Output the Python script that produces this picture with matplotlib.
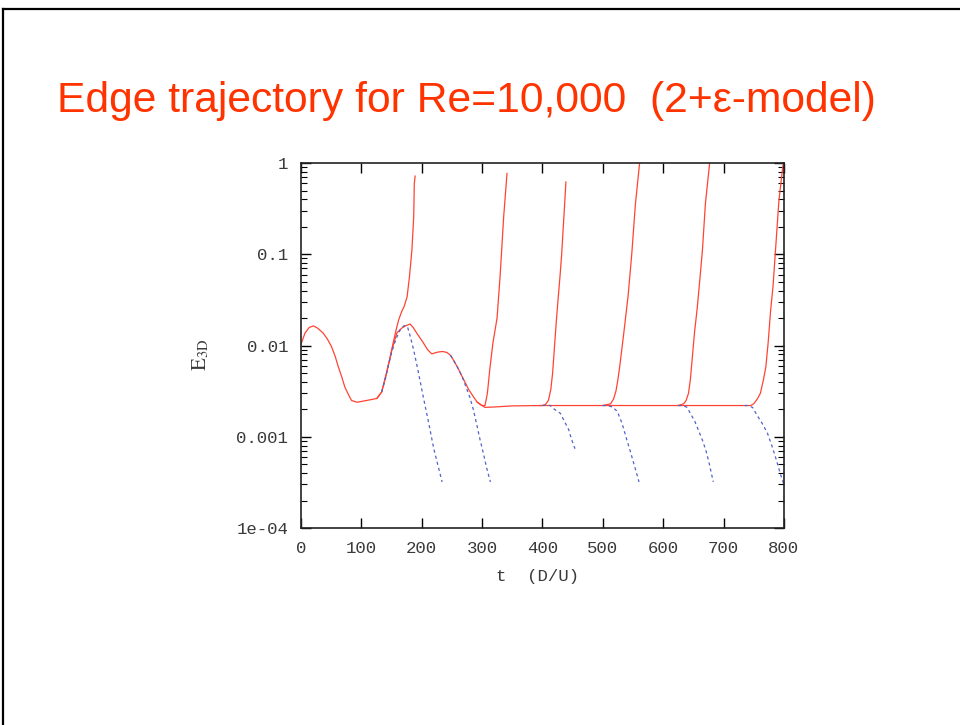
import matplotlib
matplotlib.use("Agg")
import matplotlib.pyplot as plt
from matplotlib.lines import Line2D
from matplotlib.ticker import FixedLocator, FixedFormatter, LogLocator, NullFormatter

plt.rcParams['mathtext.fontset'] = 'stix'

# turbulent branches (red, solid): t in D/U, E3D
t_up0 = [0, 3, 7, 14, 21, 28, 37, 44, 51, 57, 62, 68, 73, 79, 84, 93, 109, 126, 134, 142,
         148, 153, 158, 162, 167, 171, 176, 180, 184, 187, 188, 189.4]
e_up0 = [0.0102, 0.0115, 0.0137, 0.0158, 0.0164, 0.0155, 0.0137, 0.0118, 0.0097, 0.0076,
         0.0059, 0.0045, 0.0035, 0.0029, 0.0025, 0.00239, 0.0025, 0.00263, 0.0031, 0.005,
         0.0075, 0.0107, 0.015, 0.019, 0.0235, 0.0267, 0.034, 0.057, 0.111, 0.258, 0.6, 0.72]

t_up1 = [126, 134, 142, 151, 159, 167, 174, 181, 186, 192, 203, 210, 217, 222, 228, 235,
         242, 248, 253, 260, 267, 278, 285, 292, 300, 305, 309, 313, 318, 325, 330, 336, 341.5]
e_up1 = [0.00263, 0.0031, 0.005, 0.009, 0.0137, 0.0155, 0.0165, 0.0172, 0.0158, 0.0137,
         0.0107, 0.009, 0.0081, 0.0083, 0.0085, 0.0086, 0.0084, 0.0078, 0.0069, 0.0057,
         0.0046, 0.0033, 0.0028, 0.0024, 0.0022, 0.0022, 0.003, 0.0055, 0.0105, 0.02,
         0.057, 0.26, 0.77]

t_up2 = [292, 300, 305, 320, 350, 400, 405, 410, 414, 417, 420, 423, 426, 429, 432, 434, 436, 439]
e_up2 = [0.0024, 0.0022, 0.0021, 0.00212, 0.00218, 0.0022, 0.00225, 0.0025, 0.0033, 0.005,
         0.0095, 0.018, 0.032, 0.055, 0.1, 0.17, 0.28, 0.62]

t_up3 = [395, 450, 500, 513, 518, 522, 525, 528, 535, 542, 548, 554, 561, 565]
e_up3 = [0.0022, 0.0022, 0.0022, 0.0023, 0.0026, 0.0032, 0.0042, 0.0058, 0.014, 0.035,
         0.1, 0.35, 1.0, 1.6]

t_up4 = [500, 560, 625, 634, 638, 642, 645, 648, 652, 656.5, 661, 665, 670, 677, 680]
e_up4 = [0.0022, 0.0022, 0.0022, 0.0023, 0.0025, 0.003, 0.0042, 0.007, 0.014, 0.026,
         0.055, 0.11, 0.36, 1.0, 1.4]

t_up5 = [625, 700, 745, 750, 756, 761, 766, 770, 774, 778, 782, 786, 791.7, 797.5, 803]
e_up5 = [0.0022, 0.0022, 0.0022, 0.0023, 0.0026, 0.003, 0.0042, 0.0058, 0.011, 0.0245,
         0.045, 0.11, 0.39, 0.84, 1.5]

# laminar branches (blue, dashed)
t_dn0 = [134, 140, 145, 150, 155, 160, 165, 170, 173, 177, 181, 187, 195, 203, 212, 220, 227, 234]
e_dn0 = [0.0031, 0.0043, 0.006, 0.0082, 0.0105, 0.0128, 0.015, 0.0163, 0.0166, 0.0158,
         0.0128, 0.0089, 0.005, 0.0027, 0.0014, 0.00075, 0.00049, 0.00032]

t_dn1 = [248, 253, 260, 267, 273, 280, 286, 292, 297, 303, 308, 314]
e_dn1 = [0.0078, 0.0069, 0.0057, 0.0046, 0.0036, 0.0027, 0.00196, 0.0013, 0.00092,
         0.00063, 0.00045, 0.00032]

t_dn2 = [400, 407, 413, 420, 425, 430, 436, 443.6, 448, 454]
e_dn2 = [0.0022, 0.00222, 0.0022, 0.002, 0.0019, 0.0018, 0.0015, 0.0012, 0.00095, 0.00074]

t_dn3 = [500, 507, 516, 524, 532, 540, 546, 551, 556, 560]
e_dn3 = [0.0022, 0.0022, 0.00212, 0.0019, 0.0014, 0.00092, 0.00068, 0.00052, 0.0004, 0.00032]

t_dn4 = [625, 632, 640, 645, 652, 658, 665, 671, 676, 683]
e_dn4 = [0.0022, 0.0022, 0.0021, 0.0018, 0.0015, 0.0012, 0.00092, 0.0007, 0.00052, 0.00032]

t_dn5 = [735, 740, 748, 756, 764, 772.6, 780, 786, 794.7, 800]
e_dn5 = [0.0022, 0.0022, 0.0021, 0.0017, 0.0014, 0.0011, 0.0008, 0.0006, 0.00038, 0.0003]

x_ticks = [0, 100, 200, 300, 400, 500, 600, 700, 800]
y_ticks = [1e-4, 1e-3, 1e-2, 1e-1, 1]
y_labels = ["1e-04", "0.001", "0.01", "0.1", "1"]

red = '#ff4433'
blue = '#5063c8'

fig = plt.figure(figsize=(9.6, 7.25), dpi=100)

# slide frame
fig.add_artist(Line2D([0.003, 1.0], [0.9876, 0.9876], color='black', lw=1.6))
fig.add_artist(Line2D([0.0031, 0.0031], [0.0, 0.9876], color='black', lw=1.6))

fig.text(0.059, 0.8455, "Edge trajectory for Re=10,000  (2+\u03b5-model)",
         color='#ff3300', fontsize=30.7, family='Liberation Sans', va='baseline')

ax = fig.add_axes([0.3133, 0.2717, 0.5033, 0.5034])

for t, e in [(t_up0, e_up0), (t_up1, e_up1), (t_up2, e_up2), (t_up3, e_up3),
             (t_up4, e_up4), (t_up5, e_up5)]:
    ax.plot(t, e, color=red, lw=0.9)
for t, e in [(t_dn0, e_dn0), (t_dn1, e_dn1), (t_dn2, e_dn2), (t_dn3, e_dn3),
             (t_dn4, e_dn4), (t_dn5, e_dn5)]:
    ax.plot(t, e, color=blue, lw=0.9, ls=(0, (2.5, 2.5)))

ax.set_yscale('log')
ax.set_xlim(0, 800)
ax.set_ylim(1e-4, 1)

ax.xaxis.set_major_locator(FixedLocator(x_ticks))
ax.yaxis.set_major_locator(FixedLocator(y_ticks))
ax.yaxis.set_major_formatter(FixedFormatter(y_labels))
ax.yaxis.set_minor_locator(LogLocator(base=10, subs=range(2, 10)))
ax.yaxis.set_minor_formatter(NullFormatter())

mono = 'Liberation Mono'
ax.tick_params(which='both', direction='in', top=True, right=True, color='black',
               labelcolor='#3a3a3a', labelsize=12.5)
ax.tick_params(which='major', length=7, width=1.0)
ax.tick_params(which='minor', length=4, width=0.8)
ax.tick_params(axis='x', pad=9)
ax.tick_params(axis='y', pad=9)
for lab in ax.get_xticklabels() + ax.get_yticklabels():
    lab.set_family(mono)

for sp in ax.spines.values():
    sp.set_linewidth(1.2)
    sp.set_color('#222222')

ax.set_xlabel("t  (D/U)", family=mono, fontsize=12.5, color='#3a3a3a')
ax.xaxis.set_label_coords(0.489, -0.112)
ax.set_ylabel(r"$\mathrm{E}_{\mathrm{3D}}$", fontsize=15, color='#3a3a3a')
ax.yaxis.set_label_coords(-0.186, 0.474)

fig.savefig("out.png", dpi=100)
